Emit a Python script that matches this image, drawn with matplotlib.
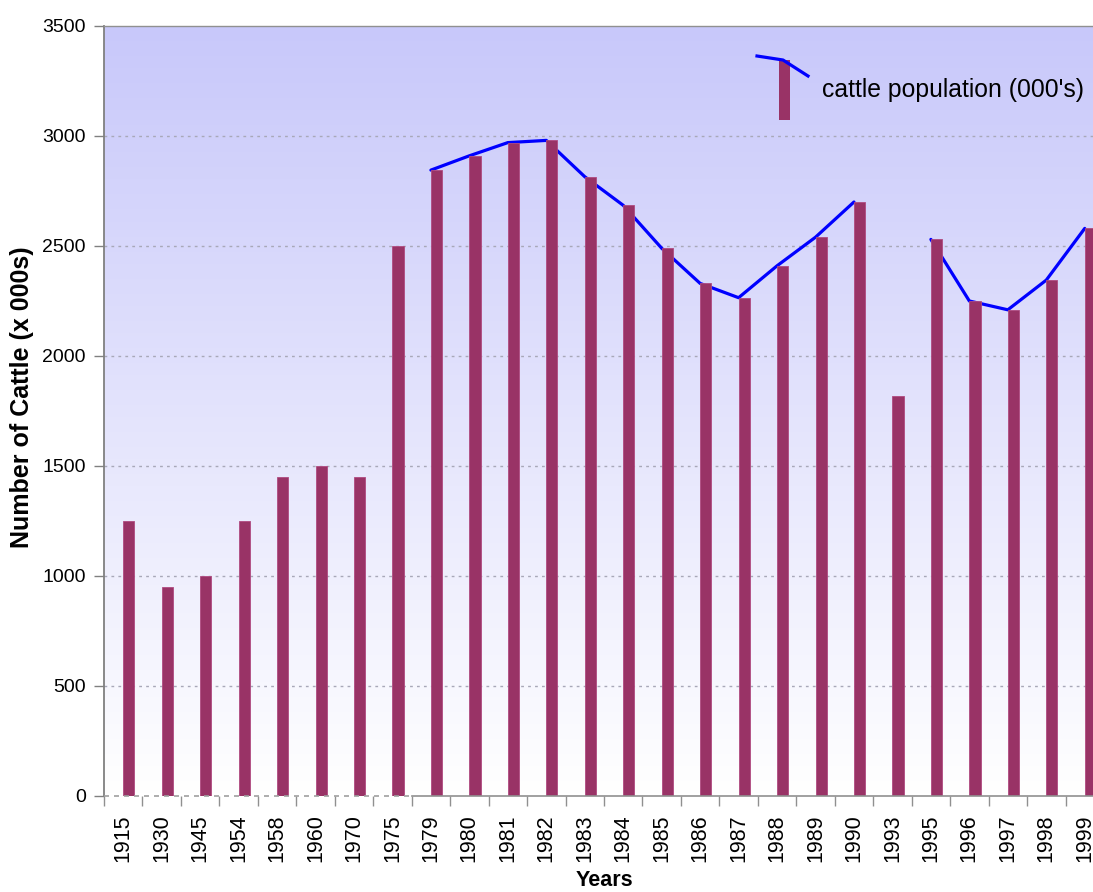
import numpy as np
import matplotlib
matplotlib.use("Agg")
import matplotlib.pyplot as plt
from matplotlib.patches import Rectangle
from matplotlib.lines import Line2D

plt.rcParams['font.family'] = ['Liberation Sans', 'DejaVu Sans']

# ---- data ----
years = ["1915", "1930", "1945", "1954", "1958", "1960", "1970", "1975",
         "1979", "1980", "1981", "1982", "1983", "1984", "1985", "1986",
         "1987", "1988", "1989", "1990", "1993", "1995", "1996", "1997",
         "1998", "1999"]
cattle = [1250, 950, 1000, 1250, 1450, 1500, 1450, 2500,
          2845, 2910, 2970, 2980, 2815, 2685, 2490, 2330,
          2265, 2410, 2540, 2700, 1820, 2530, 2250, 2210,
          2345, 2580]
# trend line (only drawn for the annual series)
trend = [None, None, None, None, None, None, None, None,
         2845, 2910, 2970, 2980, 2815, 2685, 2490, 2330,
         2265, 2410, 2540, 2700, None, 2530, 2250, 2210,
         2345, 2580]
y_ticks = [0, 500, 1000, 1500, 2000, 2500, 3000, 3500]
legend_label = "cattle population (000's)"

W, H = 1093, 892
fig = plt.figure(figsize=(W / 100, H / 100), dpi=100)
fig.patch.set_facecolor('white')

def fx(px):
    return px / W

def fy(py):
    return 1 - py / H

ax_left, ax_top, ax_bottom = 104, 26, 796
cat_w = 38.46
n = len(years)
ax = fig.add_axes([fx(ax_left), fy(ax_bottom), n * cat_w / W, (ax_bottom - ax_top) / H])

x = np.arange(n)

# gradient background (lavender at top -> white at bottom)
grad = np.linspace(0, 1, 256).reshape(-1, 1)
top = np.array([200, 200, 250]) / 255
bot = np.array([255, 255, 255]) / 255
img = top[None, None, :] * (1 - grad[:, :, None]) + bot[None, None, :] * grad[:, :, None]
ax.imshow(img, extent=[-0.5, n - 0.5, 0, 3500], origin='upper', aspect='auto', zorder=0)
ax.set_xlim(-0.5, n - 0.5)
ax.set_ylim(0, 3500)

# grid
for yv in y_ticks[1:-1]:
    ax.axhline(yv, color='#a8a8b8', lw=1.0, ls=(0, (2, 3)), zorder=1)

# bars
bar_w = 0.29
ax.bar(x, cattle, width=bar_w, align='edge', color='#993366',
       edgecolor='#b04a80', linewidth=0.6, zorder=3)

# trend line
tr = np.array([np.nan if v is None else v for v in trend], dtype=float)
ax.plot(x, tr, color='#0000ff', lw=2.3, zorder=2.5, solid_capstyle='round')

# bottom axis line: dashed for early years, solid afterwards
for s in ['bottom', 'right']:
    ax.spines[s].set_visible(False)
ax.plot([-0.5, 7.5], [0, 0], color='#a0a0a0', lw=1.2, ls=(0, (3, 3)), zorder=4, clip_on=False)
ax.plot([7.5, n - 0.5], [0, 0], color='#909090', lw=1.2, zorder=4, clip_on=False)
ax.spines['left'].set_color('#808080')
ax.spines['left'].set_linewidth(1.3)
ax.spines['top'].set_color('#909090')
ax.spines['top'].set_linewidth(1.0)

# ticks
ax.set_yticks(y_ticks)
ax.set_yticklabels([str(v) for v in y_ticks], fontsize=14)
ax.tick_params(axis='y', direction='out', length=7, width=1, color='#808080', pad=6)
ax.set_xticks(x)
ax.set_xticklabels(years, rotation=90, fontsize=15.5)
ax.set_xticks(np.arange(n + 1) - 0.5, minor=True)
ax.tick_params(axis='x', which='major', length=0, pad=13)
ax.tick_params(axis='x', which='minor', direction='out', length=7, width=1, color='#909090')

fig.text(fx(604), fy(880), "Years", fontsize=15.5, fontweight='bold', ha='center', va='center')
fig.text(fx(22), fy(397), "Number of Cattle (x 000s)", fontsize=18, fontweight='bold',
         rotation=90, ha='center', va='center')

# custom legend
fig.patches.append(Rectangle((fx(779), fy(120)), fx(11), 60 / H, transform=fig.transFigure,
                             facecolor='#993366', edgecolor='none', figure=fig))
fig.lines.append(Line2D([fx(757), fx(783), fx(808)], [fy(56), fy(60), fy(76)],
                        transform=fig.transFigure, color='#0000ff', lw=2.3, figure=fig))
fig.text(fx(822), fy(90), legend_label, fontsize=17.8, ha='left', va='center')

fig.savefig("out.png", dpi=100)
